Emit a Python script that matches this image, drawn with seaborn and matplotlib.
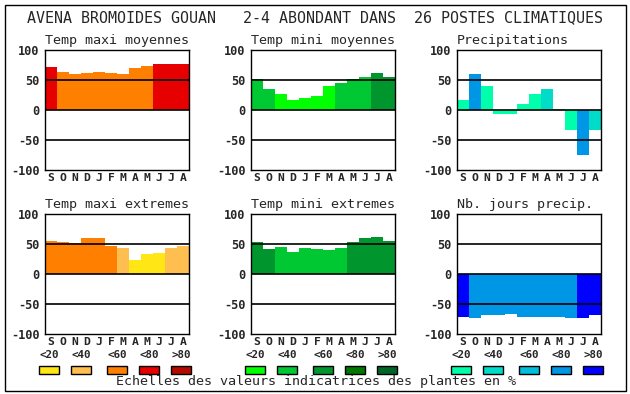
import pandas as pd
import matplotlib.pyplot as plt
import seaborn as sns
from matplotlib.patches import Rectangle

sns.set_style('white')
plt.rcParams['font.family'] = ['DejaVu Sans Mono', 'DejaVu Sans']

months = ['S', 'O', 'N', 'D', 'J', 'F', 'M', 'A', 'M', 'J', 'J', 'A']
classes = ['<20', '<40', '<60', '<80', '>80']

# colour scales (one per family of panels)
warm = ['#ffe614', '#ffbe50', '#ff8000', '#e60000', '#b40a00']
green = ['#00ff00', '#00c832', '#00962d', '#007800', '#006428']
blue = ['#00ffaa', '#00dcc8', '#00bedc', '#0096e6', '#0000ff']

titles = ['Temp maxi moyennes', 'Temp mini moyennes', 'Precipitations',
          'Temp maxi extremes', 'Temp mini extremes', 'Nb. jours precip.']

tmax_moy = [72, 63, 60, 62, 63, 62, 60, 70, 73, 77, 77, 77]
tmax_moy_cls = [3, 2, 2, 2, 2, 2, 2, 2, 2, 3, 3, 3]

tmin_moy = [52, 35, 27, 17, 20, 23, 40, 45, 52, 55, 62, 55]
tmin_moy_cls = [1, 1, 0, 0, 0, 0, 0, 1, 1, 1, 2, 2]

precip = [17, 60, 40, -6, -6, 10, 27, 35, 2, -34, -75, -33]
precip_cls = [0, 3, 0, 0, 0, 0, 0, 1, 0, 0, 3, 1]

tmax_ext = [55, 53, 52, 60, 60, 47, 43, 23, 33, 35, 43, 47]
tmax_ext_cls = [2, 2, 2, 2, 2, 2, 1, 0, 0, 0, 1, 1]

tmin_ext = [53, 42, 45, 37, 43, 42, 40, 43, 53, 60, 61, 55]
tmin_ext_cls = [2, 2, 1, 1, 1, 1, 1, 1, 2, 2, 2, 2]

nb_jours = [-72, -73, -68, -68, -67, -72, -72, -72, -72, -73, -73, -68]
nb_jours_cls = [4, 3, 3, 3, 3, 3, 3, 3, 3, 3, 4, 4]

panels = [
    (tmax_moy, tmax_moy_cls, warm),
    (tmin_moy, tmin_moy_cls, green),
    (precip, precip_cls, blue),
    (tmax_ext, tmax_ext_cls, warm),
    (tmin_ext, tmin_ext_cls, green),
    (nb_jours, nb_jours_cls, blue),
]

W, H = 630, 394
fig = plt.figure(figsize=(W / 100, H / 100), dpi=100)

# frame around the whole figure
bg = fig.add_axes([0, 0, 1, 1])
bg.set_xlim(0, W)
bg.set_ylim(H, 0)
bg.axis('off')
bg.add_patch(Rectangle((4.5, 4.5), 621, 386, fill=False, ec='black', lw=1))

bg.text(315, 18, 'AVENA BROMOIDES GOUAN   2-4 ABONDANT DANS  26 POSTES CLIMATIQUES',
        ha='center', va='center', fontsize=10.8)

lefts = [45, 251, 457]
tops = [50, 214]

for i, (vals, cls, pal) in enumerate(panels):
    r, c = divmod(i, 3)
    x0, y0 = lefts[c], tops[r]
    ax = fig.add_axes([x0 / W, 1 - (y0 + 120) / H, 144 / W, 120 / H])
    df = pd.DataFrame({'pos': range(12), 'val': vals, 'cls': cls})
    sns.barplot(data=df, x='pos', y='val', hue='cls', order=range(12),
                palette={k: pal[k] for k in range(5)}, hue_order=range(5),
                dodge=False, width=1, saturation=1, linewidth=0,
                legend=False, ax=ax, zorder=2)
    for yv in (50, 0, -50):
        ax.axhline(yv, color='black', lw=1.2, zorder=3)
    ax.set_ylim(-100, 100)
    ax.set_xlim(-0.5, 11.5)
    ax.set_yticks([100, 50, 0, -50, -100])
    ax.set_yticklabels(['100', '50', '0', '-50', '-100'],
                       fontweight='bold', fontsize=8.6)
    ax.set_xticks(range(12))
    ax.set_xticklabels(months, fontweight='bold', fontsize=8.2)
    ax.tick_params(length=0, pad=2)
    ax.tick_params(axis='y', pad=4)
    ax.set_xlabel('')
    ax.set_ylabel('')
    ax.set_title(titles[i], fontsize=9.6, pad=4, loc='left')
    for s in ax.spines.values():
        s.set_color('black')
        s.set_linewidth(1)

# colour scales at the bottom
sw_x = [[39, 71, 107, 139, 171], [245, 277, 313, 345, 377], [451, 483, 519, 551, 583]]
for xs, pal in zip(sw_x, [warm, green, blue]):
    for x, col, lab in zip(xs, pal, classes):
        bg.add_patch(Rectangle((x, 366), 20, 8, fc=col, ec='black', lw=1))
        bg.text(x + 10, 355, lab, ha='center', va='center',
                fontsize=7.8, fontweight='bold')

bg.text(316, 382, 'Echelles des valeurs indicatrices des plantes en %',
        ha='center', va='center', fontsize=9.6)

fig.savefig('out.png', dpi=100)
